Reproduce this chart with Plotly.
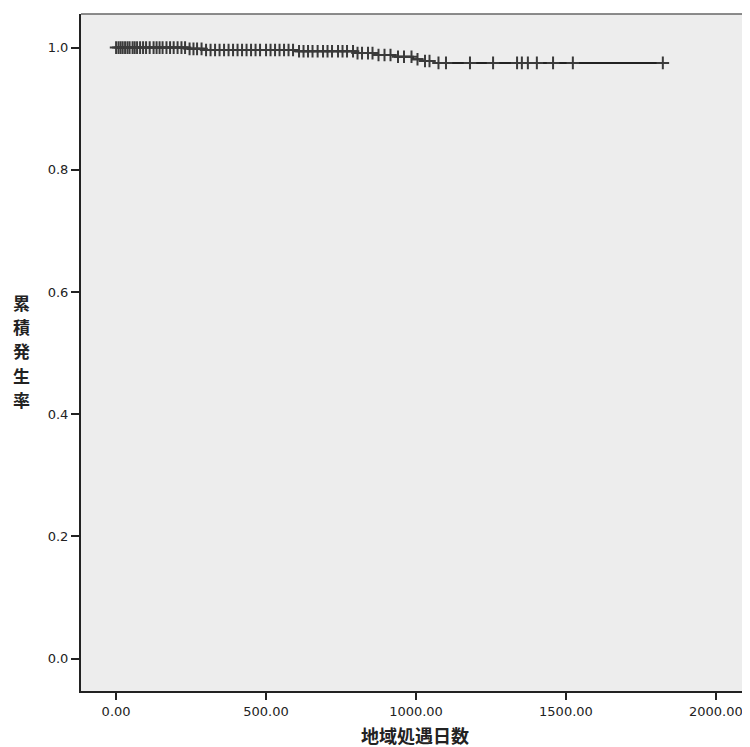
import plotly.graph_objects as go

# Kaplan-Meier style step curve (cumulative rate)
step_days = [0, 240, 300, 600, 800, 870, 930, 990, 1020, 1060, 1823]
step_rate = [1.0, 0.998, 0.996, 0.994, 0.991, 0.988, 0.985, 0.981, 0.978, 0.975, 0.975]

# censored observations (tick marks)
censor_days = [0, 8, 15, 22, 30, 38, 45, 55, 62, 70, 80, 90, 100, 112, 125, 135, 145,
               155, 168, 180, 192, 205, 218, 230, 245, 258, 270, 285, 300, 315, 330,
               345, 360, 375, 390, 405, 420, 435, 450, 465, 480, 500, 515, 530, 545,
               560, 575, 590, 610, 625, 640, 655, 672, 690, 705, 720, 740, 755, 770,
               790, 805, 820, 840, 855, 875, 895, 915, 940, 960, 985, 1005, 1030,
               1045, 1075, 1100, 1180, 1257, 1337, 1353, 1373, 1403, 1457, 1523, 1823]

x_ticks = [0, 500, 1000, 1500, 2000]
x_tick_text = ["0.00", "500.00", "1000.00", "1500.00", "2000.00"]
y_ticks = [0.0, 0.2, 0.4, 0.6, 0.8, 1.0]
y_tick_text = ["0.0", "0.2", "0.4", "0.6", "0.8", "1.0"]
y_title_chars = ["累", "積", "発", "生", "率"]
x_title = "地域処遇日数"


def rate_at(d):
    r = step_rate[0]
    for t, v in zip(step_days, step_rate):
        if d >= t:
            r = v
    return r


censor_rate = [rate_at(d) for d in censor_days]

fig = go.Figure()
fig.add_trace(go.Scatter(
    x=step_days, y=step_rate, mode="lines", line_shape="hv",
    line=dict(color="#222222", width=2), showlegend=False, hoverinfo="skip"))
fig.add_trace(go.Scatter(
    x=censor_days, y=censor_rate, mode="markers",
    marker=dict(symbol="cross-thin", size=9,
                line=dict(color="#3a3a3a", width=2)),
    showlegend=False))

annotations = []
plot_top, plot_h = 14, 669
for i, ch in enumerate(y_title_chars):
    ypx = 299 + i * 24
    annotations.append(dict(
        text="<b>" + ch + "</b>", xref="paper", yref="paper",
        x=-0.0885, y=1 - (ypx - plot_top) / plot_h, xanchor="center",
        yanchor="middle", showarrow=False,
        font=dict(family="Noto Sans CJK JP", size=17, color="#222222")))
annotations.append(dict(
    text="<b>" + x_title + "</b>", xref="paper", yref="paper",
    x=0.5, y=0, yshift=-44, xanchor="center", yanchor="middle",
    showarrow=False,
    font=dict(family="Noto Sans CJK JP", size=18, color="#222222")))

fig.update_layout(
    width=742, height=739,
    margin=dict(l=73, r=2, t=6, b=56),
    paper_bgcolor="white", plot_bgcolor="#ededed",
    font=dict(family="DejaVu Sans", size=13, color="#222222"),
    xaxis=dict(range=[-117, 2107], tickvals=x_ticks, ticktext=x_tick_text,
               showgrid=False, zeroline=False, showline=True, linecolor="#222222",
               linewidth=2, mirror=False, ticks="outside", ticklen=7,
               tickcolor="#222222", tickwidth=2, tickfont=dict(size=13)),
    yaxis=dict(range=[-0.053, 1.055], tickvals=y_ticks, ticktext=y_tick_text,
               showgrid=False, zeroline=False, showline=True, linecolor="#222222",
               linewidth=2, mirror=False, ticks="outside", ticklen=8,
               tickcolor="#222222", tickwidth=2, tickfont=dict(size=13)),
    shapes=[
        dict(type="line", xref="paper", yref="paper", x0=0, x1=1, y0=1, y1=1,
             line=dict(color="#666666", width=1.5)),
        dict(type="line", xref="paper", yref="paper", x0=1, x1=1, y0=0, y1=1,
             line=dict(color="#666666", width=1.5)),
    ],
    annotations=annotations,
)

fig.write_html("out.html")
